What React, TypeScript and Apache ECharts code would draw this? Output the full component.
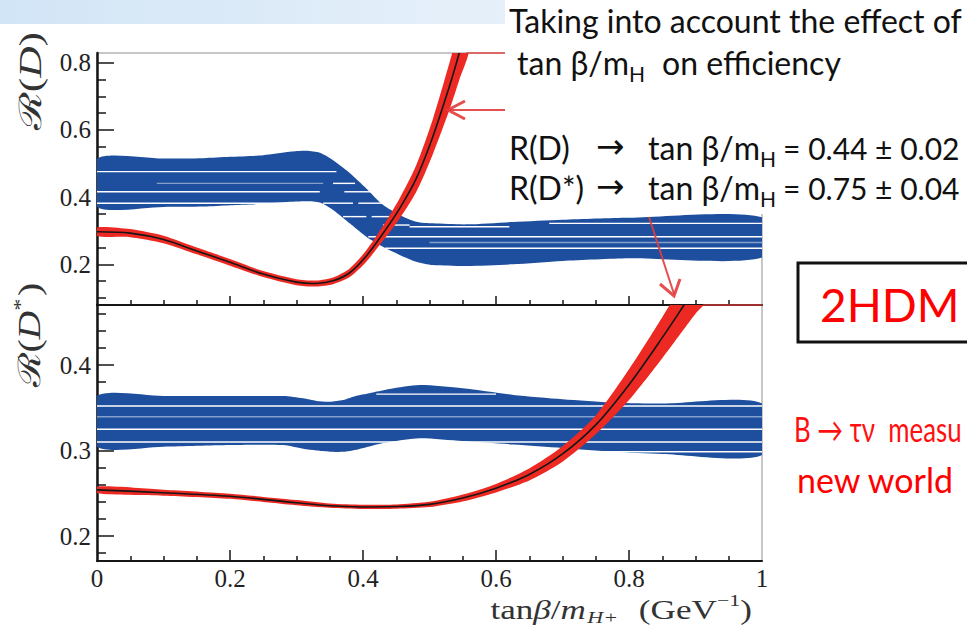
import React, { useEffect, useRef } from "react";
import * as echarts from "echarts";

// ---- axis ticks -------------------------------------------------------
const X_TICK_LABELS = [0, 0.2, 0.4, 0.6, 0.8, 1];
const X_MAJOR_TICKS = [0.2, 0.4, 0.6, 0.8];
const X_MINOR_TICKS = [0.05, 0.1, 0.15, 0.25, 0.3, 0.35, 0.45, 0.5, 0.55, 0.65, 0.7, 0.75, 0.85, 0.9, 0.95];

const RD_TICK_LABELS = [0.2, 0.4, 0.6, 0.8];
const RD_MINOR_TICKS = [0.1, 0.15, 0.25, 0.3, 0.35, 0.45, 0.5, 0.55, 0.65, 0.7, 0.75];
const RDS_TICK_LABELS = [0.2, 0.3, 0.4];
const RDS_MINOR_TICKS = [0.18, 0.22, 0.24, 0.26, 0.28, 0.32, 0.34, 0.36, 0.38, 0.42, 0.44, 0.46];

// ---- R(D): measured band (blue) vs tanβ/m_H+ ---------------------------
const RD_BAND_X = [0, 0.1, 0.16, 0.2, 0.25, 0.29, 0.315, 0.335, 0.355, 0.38, 0.405, 0.43, 0.455, 0.48, 0.505, 0.556, 0.625, 0.7, 0.8, 1.0];
const RD_BAND_HI = [0.515, 0.515, 0.516, 0.52, 0.525, 0.535, 0.538, 0.532, 0.51, 0.472, 0.426, 0.377, 0.347, 0.327, 0.322, 0.319, 0.326, 0.333, 0.339, 0.34];
const RD_BAND_LO = [0.371, 0.371, 0.372, 0.376, 0.38, 0.386, 0.388, 0.384, 0.362, 0.322, 0.282, 0.252, 0.228, 0.208, 0.198, 0.195, 0.2, 0.21, 0.218, 0.22];
// white gaps between the stacked strips: [x from, x to, R(D)]
const RD_GAPS = [
  [0, 0.36, 0.476], [0, 0.335, 0.416], [0, 0.3, 0.382],
  [0.355, 0.388, 0.441], [0.372, 0.413, 0.416], [0.34, 0.385, 0.382], [0.393, 0.428, 0.382],
  [0.37, 0.405, 0.342], [0.413, 0.453, 0.342], [0.43, 0.47, 0.317],
  [0.408, 1, 0.282], [0.433, 1, 0.248], [0.47, 0.62, 0.312], [0.68, 1, 0.322],
];
const RD_GAPS_FAINT = [[0.09, 0.34, 0.441], [0.5, 1, 0.265]];

// ---- R(D): 2HDM prediction (red band, black central curve) -------------
const RD_CURVE_X = [0, 0.05, 0.1, 0.15, 0.2, 0.25, 0.3, 0.33, 0.355, 0.38, 0.405, 0.43, 0.455, 0.48, 0.505, 0.53, 0.545, 0.56];
const RD_CURVE = [0.297, 0.293, 0.274, 0.24, 0.206, 0.171, 0.147, 0.143, 0.151, 0.175, 0.225, 0.292, 0.366, 0.455, 0.58, 0.73, 0.83, 0.93];
const RD_CURVE_LO = [0.284, 0.281, 0.263, 0.23, 0.196, 0.162, 0.138, 0.134, 0.141, 0.162, 0.208, 0.27, 0.336, 0.415, 0.528, 0.66, 0.75, 0.84];
const RD_CURVE_HI = [0.31, 0.305, 0.285, 0.25, 0.216, 0.18, 0.156, 0.152, 0.161, 0.188, 0.242, 0.314, 0.396, 0.495, 0.632, 0.8, 0.91, 1.02];

// ---- R(D*): measured band ---------------------------------------------
const RDS_BAND_X = [0, 0.1, 0.2, 0.28, 0.31, 0.33, 0.35, 0.37, 0.39, 0.415, 0.44, 0.485, 0.55, 0.626, 0.7, 0.777, 0.85, 1.0];
const RDS_BAND_HI = [0.3637, 0.3637, 0.3637, 0.3637, 0.361, 0.358, 0.357, 0.359, 0.364, 0.368, 0.372, 0.3766, 0.3727, 0.365, 0.36, 0.356, 0.355, 0.355];
const RDS_BAND_LO = [0.3045, 0.3045, 0.3064, 0.3064, 0.302, 0.3, 0.2986, 0.2986, 0.301, 0.306, 0.31, 0.3143, 0.311, 0.307, 0.303, 0.2986, 0.296, 0.2947];
const RDS_GAPS = [[0, 1, 0.352], [0, 1, 0.3248], [0, 1, 0.31], [0.42, 0.6, 0.366], [0.72, 1, 0.2986]];
const RDS_GAPS_FAINT = [[0, 1, 0.3395]];

// ---- R(D*): 2HDM prediction --------------------------------------------
const RDS_CURVE_X = [0, 0.1, 0.2, 0.3, 0.35, 0.4, 0.45, 0.5, 0.55, 0.6, 0.65, 0.7, 0.75, 0.8, 0.85, 0.9, 0.93];
const RDS_CURVE = [0.254, 0.2507, 0.2465, 0.239, 0.2355, 0.234, 0.2345, 0.237, 0.2445, 0.256, 0.272, 0.296, 0.33, 0.377, 0.432, 0.49, 0.522];
const RDS_CURVE_LO = [0.25, 0.2472, 0.2435, 0.236, 0.233, 0.2315, 0.232, 0.234, 0.2405, 0.251, 0.265, 0.287, 0.319, 0.359, 0.408, 0.46, 0.488];
const RDS_CURVE_HI = [0.258, 0.2542, 0.2495, 0.242, 0.238, 0.2365, 0.237, 0.24, 0.2485, 0.261, 0.279, 0.305, 0.341, 0.395, 0.456, 0.52, 0.56];

const INK = "#161616";
const BLUE = "#1e4f9e";
const RED = "#ec2a23";
const PLOT_FONT = "'Liberation Serif', 'DejaVu Serif', serif";
const SLIDE_FONT = "Lato, 'Open Sans', sans-serif";

// filled band between a lower and an upper edge, drawn as one smoothed polygon
function band(name: string, axis: number, xs: number[], lo: number[], hi: number[], color: string, z: number) {
  return {
    type: "custom", name, xAxisIndex: axis, yAxisIndex: axis, silent: true, clip: true, z,
    data: xs.map((x, i) => [x, lo[i], hi[i]]),
    encode: { x: 0, y: [1, 2] },
    renderItem: (params: any, api: any) => {
      if (params.dataIndex !== 0) return null;
      const upper = xs.map((x, i) => api.coord([x, hi[i]]));
      const lower = xs.map((x, i) => api.coord([x, lo[i]])).reverse();
      return {
        type: "polygon",
        shape: { points: upper.concat(lower), smooth: 0.25 },
        style: { fill: color },
      };
    },
  };
}

function curve(name: string, axis: number, xs: number[], ys: number[]) {
  return {
    type: "custom", name, xAxisIndex: axis, yAxisIndex: axis, silent: true, clip: true, z: 6,
    data: xs.map((x, i) => [x, ys[i]]),
    encode: { x: 0, y: 1 },
    renderItem: (params: any, api: any) => {
      if (params.dataIndex !== 0) return null;
      return {
        type: "polyline",
        shape: { points: xs.map((x, i) => api.coord([x, ys[i]])), smooth: 0.3 },
        style: { stroke: INK, lineWidth: 1.6, fill: null },
      };
    },
  };
}

function gaps(axis: number, rows: number[][], opacity: number) {
  return {
    type: "custom", xAxisIndex: axis, yAxisIndex: axis, silent: true, clip: true, z: 3,
    data: rows, encode: { x: [0, 1], y: 2 },
    renderItem: (_p: any, api: any) => {
      const a = api.coord([api.value(0), api.value(2)]);
      const b = api.coord([api.value(1), api.value(2)]);
      return {
        type: "line",
        shape: { x1: a[0], y1: a[1], x2: b[0], y2: b[1] },
        style: { stroke: "#ffffff", lineWidth: 1.4, opacity },
      };
    },
  };
}

function xAxes(grid: number, labels: boolean, majorLen: number) {
  const tickLine = { color: INK, width: 1.5 };
  return [
    {
      type: "value", gridIndex: grid, min: 0, max: 1, position: "bottom",
      axisLine: { show: true, onZero: false, lineStyle: { color: INK, width: 2 } },
      axisTick: { show: true, inside: true, length: majorLen, customValues: X_MAJOR_TICKS, lineStyle: tickLine },
      axisLabel: labels
        ? { show: true, customValues: X_TICK_LABELS, margin: 5, fontFamily: PLOT_FONT, fontSize: 25, color: "#222" }
        : { show: false },
      splitLine: { show: false },
    },
    {
      type: "value", gridIndex: grid, min: 0, max: 1, position: "bottom",
      axisLine: { show: false },
      axisTick: { show: true, inside: true, length: 5, customValues: X_MINOR_TICKS, lineStyle: tickLine },
      axisLabel: { show: false }, splitLine: { show: false },
    },
  ];
}

function yAxes(grid: number, min: number, max: number, major: number[], minor: number[]) {
  const tickLine = { color: INK, width: 1.5 };
  return [
    {
      type: "value", gridIndex: grid, min, max, position: "left",
      axisLine: { show: true, onZero: false, lineStyle: { color: INK, width: 2.5 } },
      axisTick: { show: true, inside: true, length: 17, customValues: major, lineStyle: tickLine },
      axisLabel: { show: true, customValues: major, margin: 6, fontFamily: PLOT_FONT, fontSize: 25, color: "#222" },
      splitLine: { show: false },
    },
    {
      type: "value", gridIndex: grid, min, max, position: "left",
      axisLine: { show: false },
      axisTick: { show: true, inside: true, length: 9, customValues: minor, lineStyle: tickLine },
      axisLabel: { show: false }, splitLine: { show: false },
    },
  ];
}

const TXT = 32;
const tanRich = {
  m: { fontFamily: SLIDE_FONT, fontSize: TXT, fill: "#111" },
  s: { fontFamily: SLIDE_FONT, fontSize: 21, fill: "#111", padding: [22, 0, 0, 0] },
  e: { fontFamily: SLIDE_FONT, fontSize: 30, fill: "#111", padding: [0, 0, 0, 7] },
  w: { fontFamily: SLIDE_FONT, fontSize: TXT, fill: "#111", padding: [0, 0, 0, 17] },
};

function slideText(x: number, y: number, text: string, size: number, rich?: any, family?: string) {
  return {
    type: "text", x, y, z: 60, silent: true,
    style: {
      text, fontFamily: family || SLIDE_FONT, fontSize: size, fill: "#111",
      align: "left", verticalAlign: "middle", rich,
    },
  };
}

function buildOption() {
  const redLine = { stroke: "rgba(226,60,60,0.9)", lineWidth: 2 };
  return {
    animation: false,
    backgroundColor: "#ffffff",
    grid: [
      { left: 97, top: 53, width: 665, height: 252, show: true, borderColor: "#8f8f8f", borderWidth: 1, outerBoundsMode: "none" },
      { left: 97, top: 305, width: 665, height: 256, show: true, borderColor: "#8f8f8f", borderWidth: 1, outerBoundsMode: "none" },
    ],
    xAxis: [...xAxes(0, false, 9), ...xAxes(1, true, 11)],
    yAxis: [
      ...yAxes(0, 0.079, 0.829, RD_TICK_LABELS, RD_MINOR_TICKS),
      ...yAxes(1, 0.1708, 0.4702, RDS_TICK_LABELS, RDS_MINOR_TICKS),
    ],
    series: [
      band("R(D) measured", 0, RD_BAND_X, RD_BAND_LO, RD_BAND_HI, BLUE, 2),
      gaps(0, RD_GAPS, 1),
      gaps(0, RD_GAPS_FAINT, 0.45),
      band("R(D) 2HDM", 0, RD_CURVE_X, RD_CURVE_LO, RD_CURVE_HI, RED, 4),
      curve("R(D) 2HDM central", 0, RD_CURVE_X, RD_CURVE),
      band("R(D*) measured", 2, RDS_BAND_X, RDS_BAND_LO, RDS_BAND_HI, BLUE, 2),
      gaps(2, RDS_GAPS, 1),
      gaps(2, RDS_GAPS_FAINT, 0.45),
      band("R(D*) 2HDM", 2, RDS_CURVE_X, RDS_CURVE_LO, RDS_CURVE_HI, RED, 4),
      curve("R(D*) 2HDM central", 2, RDS_CURVE_X, RDS_CURVE),
    ],
    graphic: [
      // slide header strip
      {
        type: "rect", z: 0, silent: true, shape: { x: 0, y: 0, width: 505, height: 24 },
        style: {
          fill: new echarts.graphic.LinearGradient(0, 0, 1, 0, [
            { offset: 0, color: "#d2e5f6" },
            { offset: 1, color: "#e6f0fa" },
          ]),
        },
      },
      // text box sitting over the upper right of the figure
      { type: "rect", z: 50, silent: true, shape: { x: 505, y: 0, width: 470, height: 214 }, style: { fill: "#ffffff" } },
      // axis titles
      {
        type: "text", x: 30, y: 81, rotation: Math.PI / 2, scaleX: 1.4, z: 60, silent: true,
        style: {
          text: "{a|ℛ(}{i|D}{a|)}", align: "center", verticalAlign: "middle",
          rich: {
            a: { fontFamily: PLOT_FONT, fontSize: 31, fill: "#333" },
            i: { fontFamily: PLOT_FONT, fontSize: 31, fill: "#333", fontStyle: "italic" },
          },
        },
      },
      {
        type: "text", x: 30, y: 335, rotation: Math.PI / 2, scaleX: 1.28, z: 60, silent: true,
        style: {
          text: "{a|ℛ(}{i|D}{p|*}{a|)}", align: "center", verticalAlign: "middle",
          rich: {
            a: { fontFamily: PLOT_FONT, fontSize: 31, fill: "#333" },
            i: { fontFamily: PLOT_FONT, fontSize: 31, fill: "#333", fontStyle: "italic" },
            p: { fontFamily: PLOT_FONT, fontSize: 19, fill: "#333", padding: [0, 2, 18, 0] },
          },
        },
      },
      {
        type: "text", x: 752, y: 610, z: 60, silent: true, scaleX: 1.3,
        style: {
          text: "{a|tan}{i|β}{a|/}{i|m}{s|H+}{g|(GeV}{p|−1}{a|)}", align: "right", verticalAlign: "middle",
          rich: {
            a: { fontFamily: PLOT_FONT, fontSize: 27, fill: "#333" },
            g: { fontFamily: PLOT_FONT, fontSize: 27, fill: "#333", padding: [0, 0, 0, 16] },
            i: { fontFamily: PLOT_FONT, fontSize: 27, fill: "#333", fontStyle: "italic" },
            s: { fontFamily: PLOT_FONT, fontSize: 17, fill: "#333", fontStyle: "italic", padding: [13, 0, 0, 1] },
            p: { fontFamily: PLOT_FONT, fontSize: 17, fill: "#333", padding: [0, 0, 20, 0] },
          },
        },
      },
      // annotations
      slideText(509, 20.6, "Taking into account the effect of", TXT),
      slideText(517, 62.6, "{m|tan β/m}{s|H}{w|on efficiency}", TXT, tanRich),
      slideText(509, 147.6, "R(D)", TXT),
      slideText(596, 146, "→", 34, undefined, "'DejaVu Sans', sans-serif"),
      slideText(648, 147.6, "{m|tan β/m}{s|H}{e|= 0.44 ± 0.02}", TXT, tanRich),
      slideText(509, 187.6, "R(D*)", TXT),
      slideText(596, 186, "→", 34, undefined, "'DejaVu Sans', sans-serif"),
      slideText(648, 187.6, "{m|tan β/m}{s|H}{e|= 0.75 ± 0.04}", TXT, tanRich),
      { type: "line", z: 60, silent: true, shape: { x1: 505, y1: 110, x2: 449, y2: 110 }, style: redLine },
      { type: "polyline", z: 60, silent: true, shape: { points: [[465, 101], [448, 110], [465, 119]] }, style: { ...redLine, lineWidth: 3, fill: null } },
      { type: "line", z: 60, silent: true, shape: { x1: 466, y1: 53, x2: 505, y2: 53 }, style: { ...redLine, lineWidth: 1.5 } },
      { type: "line", z: 60, silent: true, shape: { x1: 649, y1: 217, x2: 674, y2: 294 }, style: redLine },
      { type: "polyline", z: 60, silent: true, shape: { points: [[660, 284], [674, 296], [680, 279]] }, style: { ...redLine, lineWidth: 3, fill: null } },
      { type: "line", z: 60, silent: true, shape: { x1: 703, y1: 305, x2: 762, y2: 305 }, style: { ...redLine, lineWidth: 1.5 } },
      { type: "rect", z: 60, silent: true, shape: { x: 798, y: 263, width: 200, height: 79 }, style: { fill: "#ffffff", stroke: "#111", lineWidth: 3 } },
      {
        type: "text", x: 820, y: 304, z: 61, silent: true,
        style: { text: "2HDM", fontFamily: SLIDE_FONT, fontSize: 46, fill: "#ff0000", align: "left", verticalAlign: "middle" },
      },
      {
        type: "text", x: 794, y: 428, z: 61, silent: true, scaleX: 0.76,
        style: { text: "B → τν  measu", fontFamily: SLIDE_FONT, fontSize: 34, fill: "#ff1010", align: "left", verticalAlign: "middle" },
      },
      {
        type: "text", x: 797, y: 479, z: 61, silent: true,
        style: { text: "new world", fontFamily: SLIDE_FONT, fontSize: 34, fill: "#ff0000", align: "left", verticalAlign: "middle" },
      },
    ],
  };
}

export default function App() {
  const ref = useRef<HTMLDivElement>(null);
  useEffect(() => {
    if (!ref.current) return;
    const chart = echarts.init(ref.current, undefined, { renderer: "svg" });
    chart.setOption(buildOption() as any);
    return () => chart.dispose();
  }, []);
  return (
    <div
      ref={ref}
      style={{ position: "fixed", left: 0, top: 0, width: 967, height: 627, background: "#ffffff" }}
    />
  );
}
